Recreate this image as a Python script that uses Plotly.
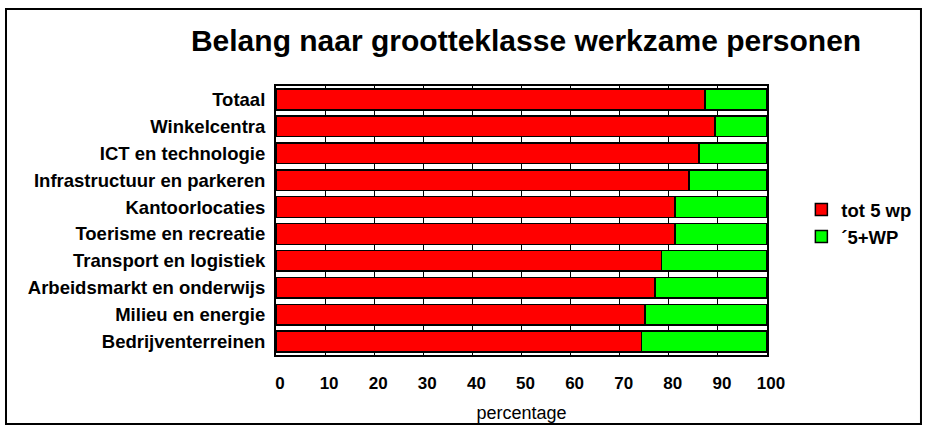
import plotly.graph_objects as go

categories = ["Totaal", "Winkelcentra", "ICT en technologie", "Infrastructuur en parkeren",
              "Kantoorlocaties", "Toerisme en recreatie", "Transport en logistiek",
              "Arbeidsmarkt en onderwijs", "Milieu en energie", "Bedrijventerreinen"]
tot5 = [87.4, 89.4, 86.2, 84.1, 81.3, 81.3, 78.5, 77.2, 75.2, 74.4]
plus5 = [12.6, 10.6, 13.8, 15.9, 18.7, 18.7, 21.5, 22.8, 24.8, 25.6]
xticks = [0, 10, 20, 30, 40, 50, 60, 70, 80, 90, 100]

FONT = "Liberation Sans, Arial, sans-serif"

fig = go.Figure()
fig.add_trace(go.Bar(y=categories, x=tot5, orientation="h", name="tot 5 wp",
                     marker=dict(color="#ff0000", line=dict(color="black", width=1.5))))
fig.add_trace(go.Bar(y=categories, x=plus5, orientation="h", name="\u00b45+WP",
                     marker=dict(color="#00ff00", line=dict(color="black", width=1.5))))

fig.update_layout(
    width=927, height=425,
    barmode="stack", bargap=0.23,
    paper_bgcolor="white", plot_bgcolor="white",
    margin=dict(l=276, r=160, t=86, b=70, autoexpand=False),
    font=dict(family=FONT, color="black"),
    title=dict(text="<b>Belang naar grootteklasse werkzame personen</b>",
               x=0.5675, xanchor="center", y=0.905, yanchor="middle",
               font=dict(size=30, family=FONT, color="black")),
    legend=dict(x=1.07, xanchor="left", y=0.489, yanchor="middle", traceorder="normal",
                font=dict(size=18.5, family=FONT, color="black", weight="bold"),
                itemwidth=30, tracegroupgap=0, bgcolor="rgba(0,0,0,0)"),
    showlegend=True,
)
fig.update_xaxes(range=[0, 100], tickvals=xticks, ticktext=[str(v) for v in xticks],
                 showgrid=True, gridcolor="black", gridwidth=1,
                 showline=True, linecolor="black", linewidth=2, mirror=True,
                 ticks="", ticklabelstandoff=12, ticklabelshift=4,
                 tickfont=dict(size=17, family=FONT, color="black", weight="bold"),
                 title=dict(text="percentage", standoff=14,
                            font=dict(size=18, family=FONT, color="black")),
                 zeroline=False)
fig.update_yaxes(autorange="reversed", showgrid=False,
                 showline=True, linecolor="black", linewidth=2, mirror=True,
                 ticks="", ticklabelstandoff=5,
                 tickfont=dict(size=18.5, family=FONT, color="black", weight="bold"))

fig.add_shape(type="rect", xref="paper", yref="paper",
              x0=-0.5499, x1=1.3136, y0=-0.2565, y1=1.2862,
              line=dict(color="black", width=2), fillcolor="rgba(0,0,0,0)", layer="below")

fig.write_html("out.html", config={"displayModeBar": False},
               post_script="document.body.style.margin='0';document.body.style.overflow='hidden';")
